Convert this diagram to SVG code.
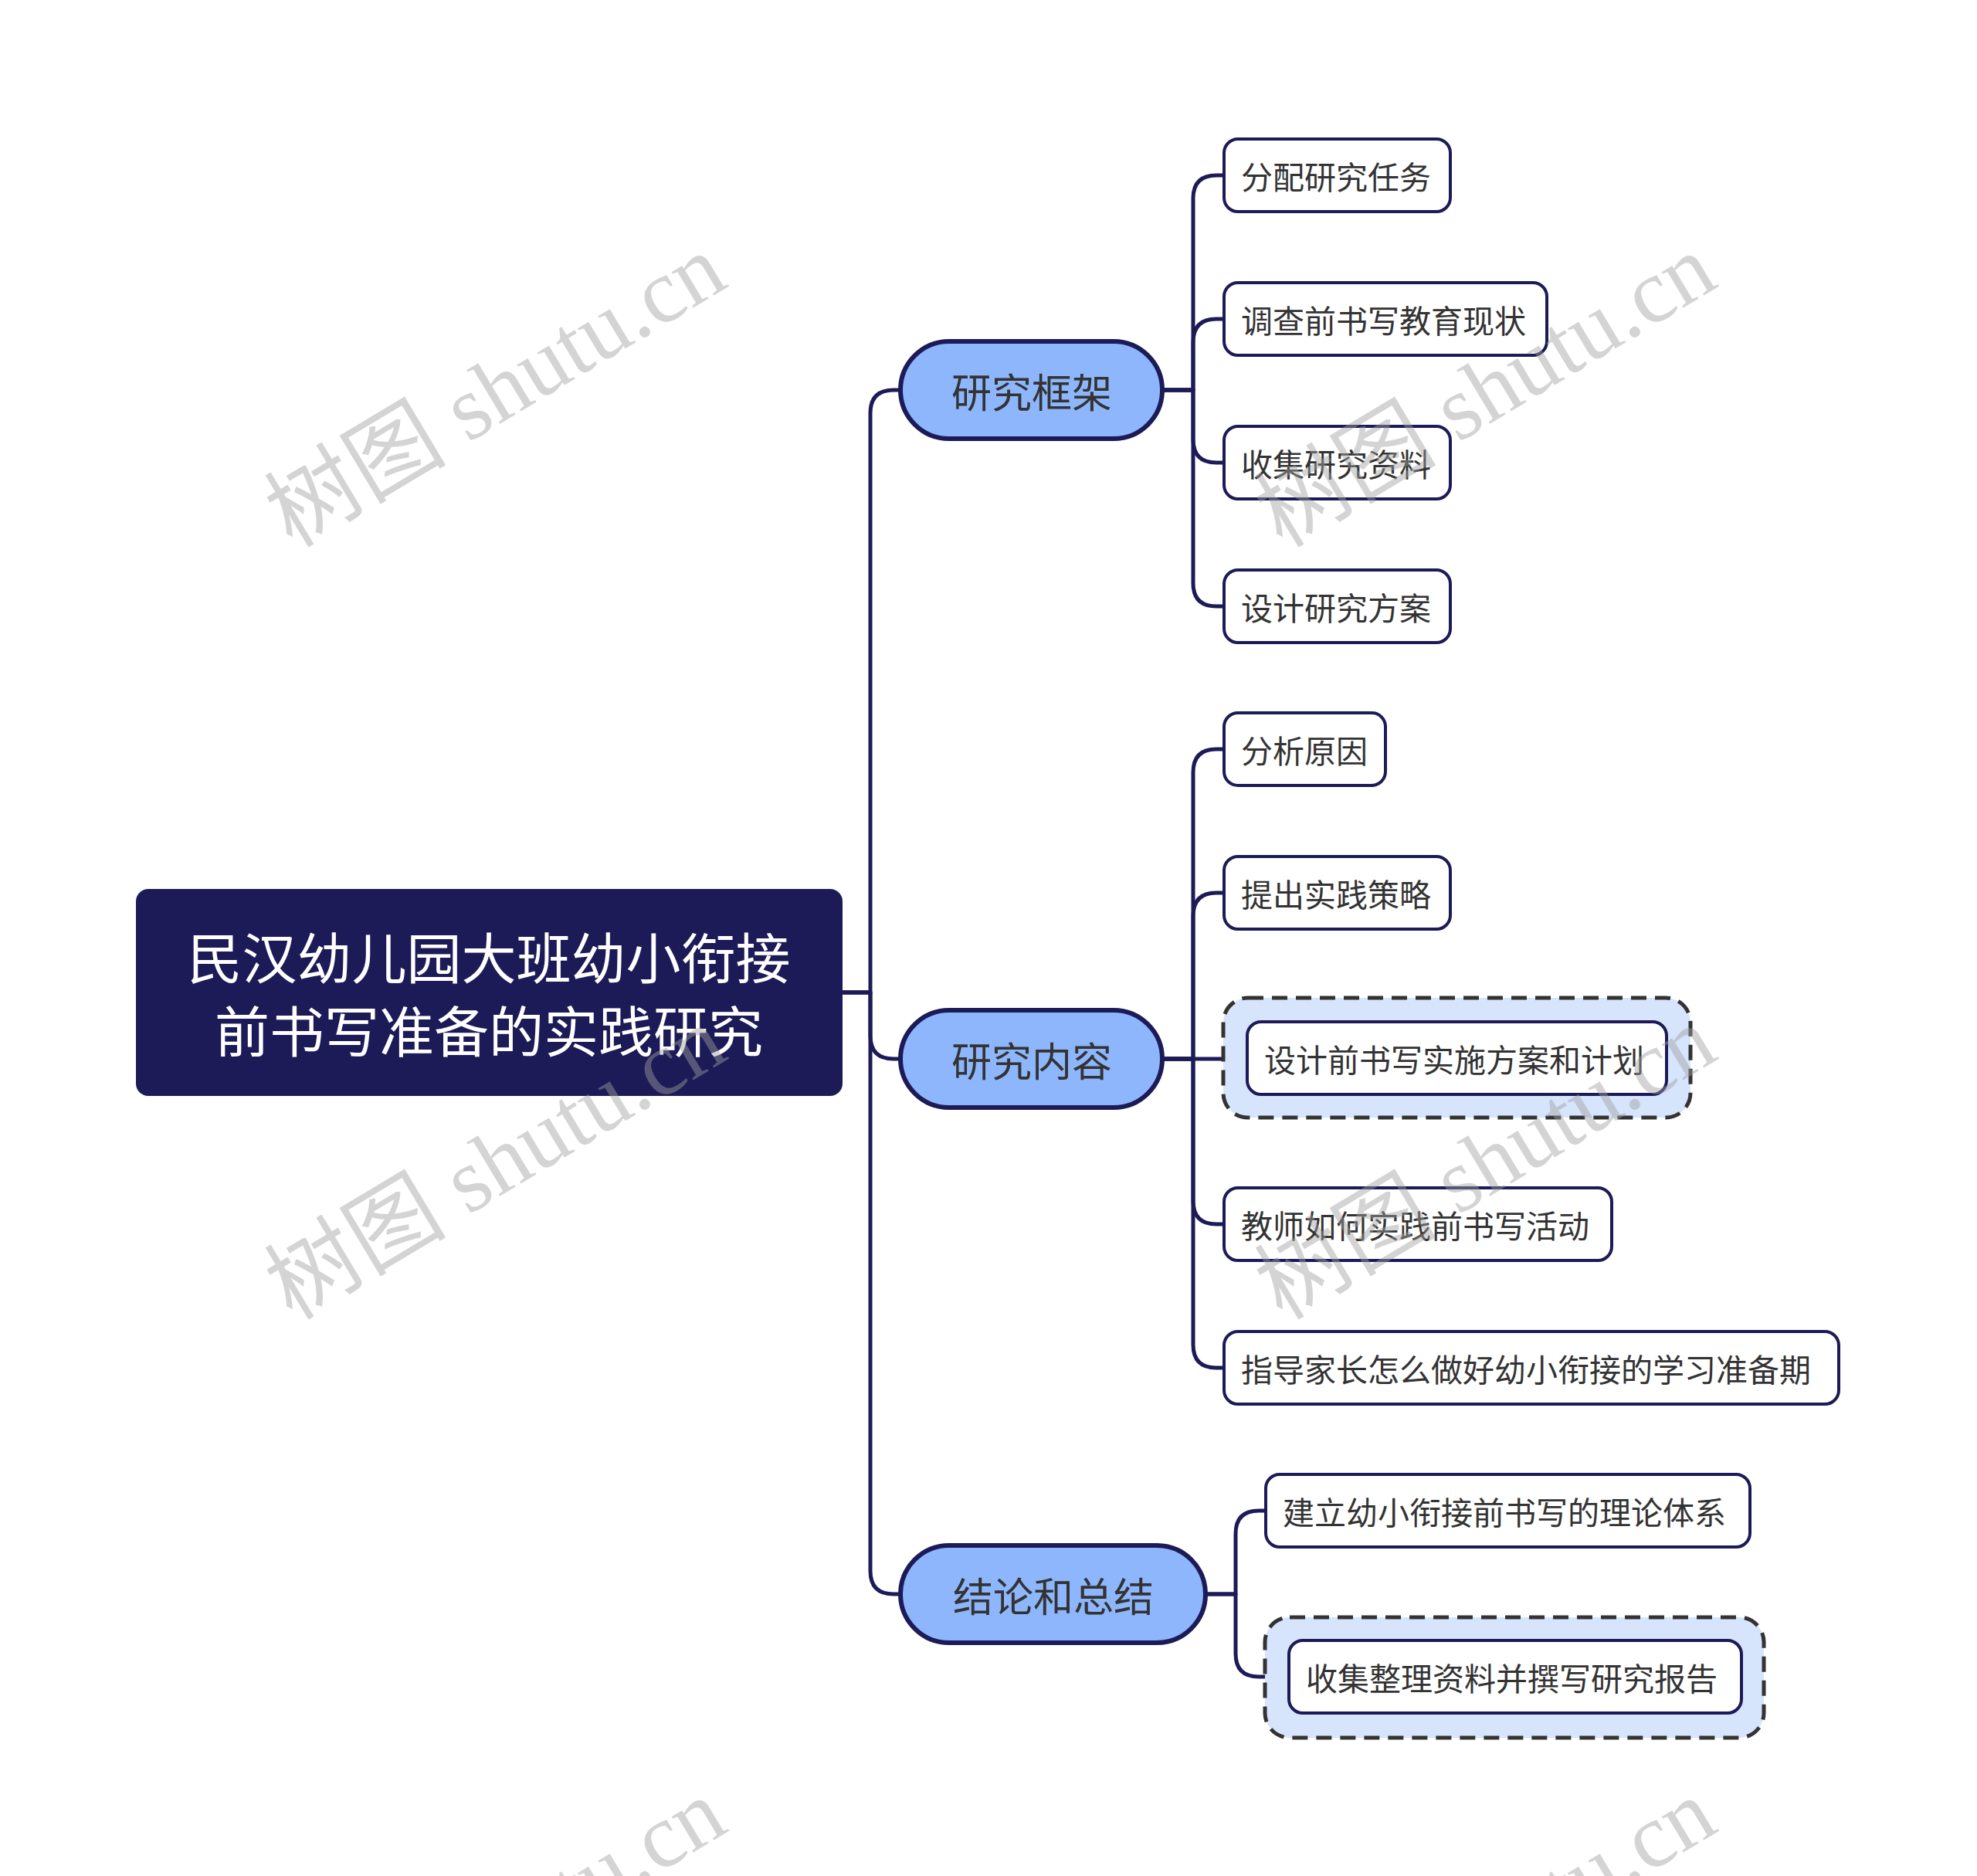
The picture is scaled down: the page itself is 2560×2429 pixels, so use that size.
<svg xmlns="http://www.w3.org/2000/svg" width="2560" height="2429" viewBox="0 0 2560 2429">
<style>
.wm{font-family:"Liberation Serif","Noto Sans CJK SC",serif;font-size:118px;fill:#a0a0a0;fill-opacity:0.45;text-anchor:middle}
.conn path{fill:none;stroke:#1c1b57;stroke-width:5;stroke-linejoin:round}
.root rect{fill:#1c1b57}
.root text{font-family:"Noto Sans CJK SC","Liberation Sans",sans-serif;font-size:71px;fill:#ffffff;text-anchor:middle;dominant-baseline:central}
.l1 rect{fill:#8db6fd;stroke:#1c1b57;stroke-width:6}
.l1 text{font-family:"Noto Sans CJK SC","Liberation Sans",sans-serif;font-size:52px;fill:#333333;text-anchor:middle;dominant-baseline:central}
.l2 rect.b{fill:#ffffff;stroke:#1c1b57;stroke-width:4}
.l2 rect.d{fill:#d6e4fc;stroke:#333333;stroke-width:5;stroke-dasharray:20 11}
.l2 text{font-family:"Noto Sans CJK SC","Liberation Sans",sans-serif;font-size:41px;fill:#333333;dominant-baseline:central}
</style>
<rect width="2560" height="2429" fill="#ffffff"/>
<g id="connectors" class="conn">
<path d="M1091 1285 H1127 V535 Q1127 505 1157 505 H1168"/>
<path d="M1091 1285 H1127 V1341 Q1127 1371 1157 1371 H1168"/>
<path d="M1091 1285 H1127 V2034 Q1127 2064 1157 2064 H1168"/>
<path d="M1505 505 H1545 V257 Q1545 227 1575 227 H1587"/>
<path d="M1505 505 H1545 V443 Q1545 413 1575 413 H1587"/>
<path d="M1505 505 H1545 V569 Q1545 599 1575 599 H1587"/>
<path d="M1505 505 H1545 V755 Q1545 785 1575 785 H1587"/>
<path d="M1505 1371 H1545 V1000 Q1545 970 1575 970 H1587"/>
<path d="M1505 1371 H1545 V1186 Q1545 1156 1575 1156 H1587"/>
<path d="M1505 1371 H1617"/>
<path d="M1505 1371 H1545 V1555 Q1545 1585 1575 1585 H1587"/>
<path d="M1505 1371 H1545 V1741 Q1545 1771 1575 1771 H1587"/>
<path d="M1561 2064 H1600 V1986 Q1600 1956 1630 1956 H1641"/>
<path d="M1561 2064 H1600 V2141 Q1600 2171 1630 2171 H1671"/>
</g>
<g id="root" class="root">
<rect x="176" y="1151" width="915" height="268" rx="16"/>
<text x="633" y="1236">民汉幼儿园大班幼小衔接</text>
<text x="633" y="1331">前书写准备的实践研究</text>
</g>
<g id="n-kuangjia" class="l1">
<rect x="1166" y="442" width="339" height="126" rx="63"/>
<text x="1336" y="505">研究框架</text>
</g>
<g id="n-neirong" class="l1">
<rect x="1166" y="1308" width="339" height="126" rx="63"/>
<text x="1336" y="1371">研究内容</text>
</g>
<g id="n-jielun" class="l1">
<rect x="1166" y="2001" width="395" height="126" rx="63"/>
<text x="1364" y="2064">结论和总结</text>
</g>
<g id="n-fenpei" class="l2">
<rect class="b" x="1585" y="180" width="293" height="94" rx="18"/>
<text x="1607" y="227">分配研究任务</text>
</g>
<g id="n-diaocha" class="l2">
<rect class="b" x="1585" y="366" width="418" height="94" rx="18"/>
<text x="1607" y="413">调查前书写教育现状</text>
</g>
<g id="n-shouji" class="l2">
<rect class="b" x="1585" y="552" width="293" height="94" rx="18"/>
<text x="1607" y="599">收集研究资料</text>
</g>
<g id="n-sheji" class="l2">
<rect class="b" x="1585" y="738" width="293" height="94" rx="18"/>
<text x="1607" y="785">设计研究方案</text>
</g>
<g id="n-fenxi" class="l2">
<rect class="b" x="1585" y="923" width="209" height="94" rx="18"/>
<text x="1607" y="970">分析原因</text>
</g>
<g id="n-tichu" class="l2">
<rect class="b" x="1585" y="1109" width="293" height="94" rx="18"/>
<text x="1607" y="1156">提出实践策略</text>
</g>
<g id="n-shejiqian" class="l2">
<rect class="d" x="1584" y="1292" width="605" height="155" rx="32"/>
<rect class="b" x="1615" y="1323" width="543" height="94" rx="18"/>
<text x="1637" y="1370">设计前书写实施方案和计划</text>
</g>
<g id="n-jiaoshi" class="l2">
<rect class="b" x="1585" y="1538" width="502" height="94" rx="18"/>
<text x="1607" y="1585">教师如何实践前书写活动</text>
</g>
<g id="n-zhidao" class="l2">
<rect class="b" x="1585" y="1724" width="796" height="94" rx="18"/>
<text x="1607" y="1771">指导家长怎么做好幼小衔接的学习准备期</text>
</g>
<g id="n-jianli" class="l2">
<rect class="b" x="1639" y="1909" width="627" height="94" rx="18"/>
<text x="1661" y="1956">建立幼小衔接前书写的理论体系</text>
</g>
<g id="n-baogao" class="l2">
<rect class="d" x="1638" y="2094" width="646" height="156" rx="32"/>
<rect class="b" x="1669" y="2124" width="586" height="94" rx="18"/>
<text x="1691" y="2171">收集整理资料并撰写研究报告</text>
</g>
<g id="watermarks">
<text class="wm" transform="translate(662,540) rotate(-31)">树图 shutu.cn</text>
<text class="wm" transform="translate(1944,540) rotate(-31)">树图 shutu.cn</text>
<text class="wm" transform="translate(662,1540) rotate(-31)">树图 shutu.cn</text>
<text class="wm" transform="translate(1944,1540) rotate(-31)">树图 shutu.cn</text>
<text class="wm" transform="translate(662,2540) rotate(-31)">树图 shutu.cn</text>
<text class="wm" transform="translate(1944,2540) rotate(-31)">树图 shutu.cn</text>
</g>
</svg>
